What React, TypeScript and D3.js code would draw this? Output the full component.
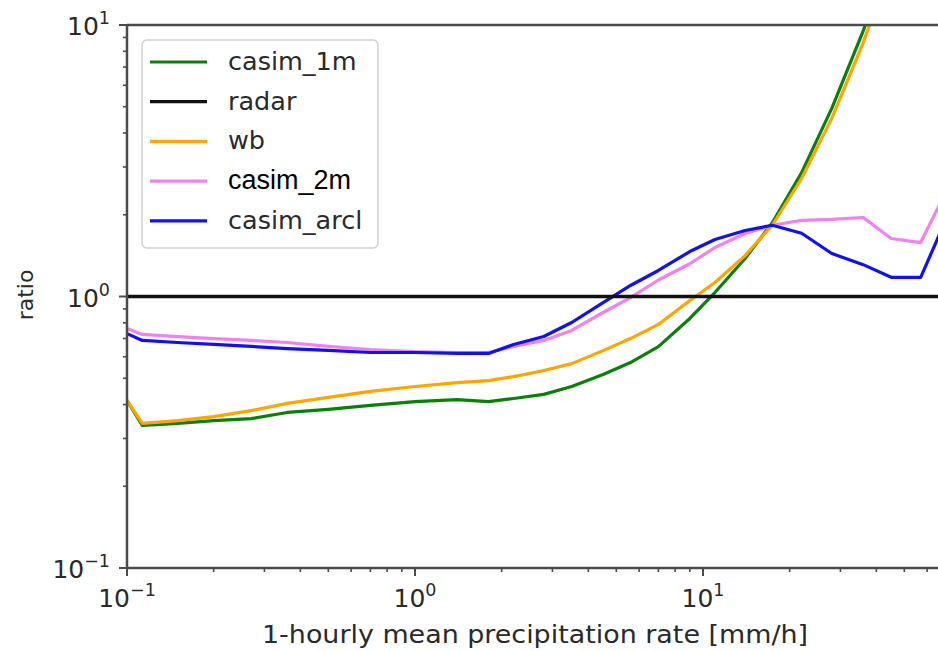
import * as d3 from "d3";

const width = 938;
const height = 651;
const marginLeft = 127;
const marginTop = 25;
const plotBottom = 568;
const plotRight = 991; // axes run past the cropped edge of the picture

// precipitation-rate bins [mm/h]
const rates = [
  0.1, 0.113, 0.15, 0.2, 0.27, 0.36, 0.5, 0.7, 1.0, 1.4, 1.8, 2.2, 2.8, 3.5,
  4.5, 5.6, 7, 9, 11, 14, 17.4, 22, 28, 36, 45, 57, 72,
];

const casim1m = [
  0.414, 0.335, 0.341, 0.349, 0.355, 0.374, 0.384, 0.397, 0.41, 0.417, 0.41,
  0.421, 0.436, 0.466, 0.516, 0.571, 0.654, 0.83, 1.034, 1.38, 1.87, 2.86,
  4.93, 9.52, 18,
];
const wb = [
  0.414, 0.341, 0.349, 0.361, 0.38, 0.404, 0.425, 0.447, 0.466, 0.482, 0.49,
  0.507, 0.534, 0.566, 0.632, 0.7, 0.789, 0.967, 1.126, 1.415, 1.83, 2.72,
  4.53, 8.6, 17,
];
const casim2m = [
  0.762, 0.725, 0.712, 0.7, 0.689, 0.677, 0.655, 0.638, 0.627, 0.622, 0.622,
  0.655, 0.689, 0.75, 0.873, 0.99, 1.15, 1.32, 1.515, 1.706, 1.83, 1.906,
  1.922, 1.954, 1.635, 1.58, 2.6,
];
const casimArcl = [
  0.73, 0.689, 0.677, 0.666, 0.655, 0.643, 0.633, 0.622, 0.622, 0.617, 0.617,
  0.666, 0.712, 0.802, 0.95, 1.098, 1.247, 1.464, 1.621, 1.75, 1.83, 1.71,
  1.44, 1.31, 1.177, 1.177, 2.07,
];
const radar = rates.map(() => 1);

const seriesNames = ["casim_1m", "radar", "wb", "casim_2m", "casim_arcl"];
const seriesValues = [casim1m, radar, wb, casim2m, casimArcl];
const seriesColors = ["#0a800a", "#111111", "#ffa500", "#ee82ee", "#1010f0"];
// radar is drawn last so it sits on top
const drawOrder = [0, 2, 3, 4, 1];

const xTicks = [0.1, 1, 10];
const xTickExp = ["\u22121", "0", "1"];
const yTicks = [0.1, 1, 10];
const yTickExp = ["\u22121", "0", "1"];

const font = "DejaVu Sans, sans-serif";
const spine = "#4a4a4a";
const textColor = "#2a2a2a";

const x = d3.scaleLog().domain([0.1, 100]).range([marginLeft, plotRight]);
const y = d3.scaleLog().domain([0.1, 10]).range([plotBottom, marginTop]);

const minorX = [0.1, 1, 10].flatMap((d) =>
  d3.range(2, 10).map((m) => d * m)
);
const minorY = [0.1, 1].flatMap((d) => d3.range(2, 10).map((m) => d * m));

const App = () => {
  const line = d3
    .line<[number, number]>()
    .x((d) => x(d[0]))
    .y((d) => y(d[1]));

  const legendX = 142;
  const legendY = 40;
  const rowH = 39.7;

  return (
    <svg
      width={width}
      height={height}
      viewBox={`0 0 ${width} ${height}`}
      style={{ position: "absolute", left: 0, top: 0, background: "#fff" }}
    >
      <defs>
        <clipPath id="plot">
          <rect
            x={marginLeft}
            y={marginTop}
            width={plotRight - marginLeft}
            height={plotBottom - marginTop}
          />
        </clipPath>
      </defs>

      <g clipPath="url(#plot)" fill="none" strokeLinejoin="round">
        {drawOrder.map((i) => {
          const vals = seriesValues[i];
          const pts = vals.map((v, k) => [rates[k], v] as [number, number]);
          return (
            <path
              key={seriesNames[i]}
              d={line(pts) as string}
              stroke={seriesColors[i]}
              strokeWidth={i === 1 ? 3.4 : 3.2}
            />
          );
        })}
      </g>

      {/* spines */}
      <line x1={marginLeft} x2={marginLeft} y1={marginTop - 1} y2={plotBottom + 1} stroke={spine} strokeWidth={2.5} />
      <line x1={marginLeft} x2={width} y1={marginTop} y2={marginTop} stroke={spine} strokeWidth={2.5} />
      <line x1={marginLeft} x2={width} y1={plotBottom} y2={plotBottom} stroke={spine} strokeWidth={2.5} />

      {/* x ticks */}
      {minorX.map((d) => (
        <line key={`mx${d}`} x1={x(d)} x2={x(d)} y1={plotBottom} y2={plotBottom + 4} stroke={spine} strokeWidth={1.6} />
      ))}
      {xTicks.map((d, i) => (
        <g key={`x${d}`}>
          <line x1={x(d)} x2={x(d)} y1={plotBottom} y2={plotBottom + 8} stroke={spine} strokeWidth={2} />
          <text x={x(d)} y={607} textAnchor="middle" fontFamily={font} fontSize={25} fill={textColor}>
            10
            <tspan fontSize={17.5} dy={-11}>{xTickExp[i]}</tspan>
          </text>
        </g>
      ))}

      {/* y ticks */}
      {minorY.map((d) => (
        <line key={`my${d}`} x1={marginLeft - 4} x2={marginLeft} y1={y(d)} y2={y(d)} stroke={spine} strokeWidth={1.6} />
      ))}
      {yTicks.map((d, i) => (
        <g key={`y${d}`}>
          <line x1={marginLeft - 8} x2={marginLeft} y1={y(d)} y2={y(d)} stroke={spine} strokeWidth={2} />
          <text x={110} y={y(d) + 10} textAnchor="end" fontFamily={font} fontSize={25} fill={textColor}>
            10
            <tspan fontSize={17.5} dy={-11}>{yTickExp[i]}</tspan>
          </text>
        </g>
      ))}

      {/* axis titles */}
      <text
        x={535}
        y={643}
        textAnchor="middle"
        fontFamily={font}
        fontSize={24}
        fill={textColor}
        textLength={546}
        lengthAdjust="spacingAndGlyphs"
      >
        1-hourly mean precipitation rate [mm/h]
      </text>
      <text
        transform={`translate(33, 295) rotate(-90)`}
        textAnchor="middle"
        fontFamily={font}
        fontSize={22}
        fill={textColor}
      >
        ratio
      </text>

      {/* legend */}
      <rect x={legendX} y={legendY} width={236} height={208} rx={5} fill="#fff" fillOpacity={0.85} stroke="#d0d0d0" strokeWidth={1.5} />
      {seriesNames.map((name, i) => {
        const cy = legendY + 22 + i * rowH;
        return (
          <g key={name}>
            <line x1={150} x2={207} y1={cy} y2={cy} stroke={seriesColors[i]} strokeWidth={3.2} />
            <text
              x={228}
              y={cy + 8}
              fontFamily={i === 3 ? "Liberation Sans, sans-serif" : font}
              fontSize={i === 3 ? 27 : 25.5}
              fill={i === 3 ? "#000" : textColor}
            >
              {name}
            </text>
          </g>
        );
      })}
    </svg>
  );
};

export default App;
